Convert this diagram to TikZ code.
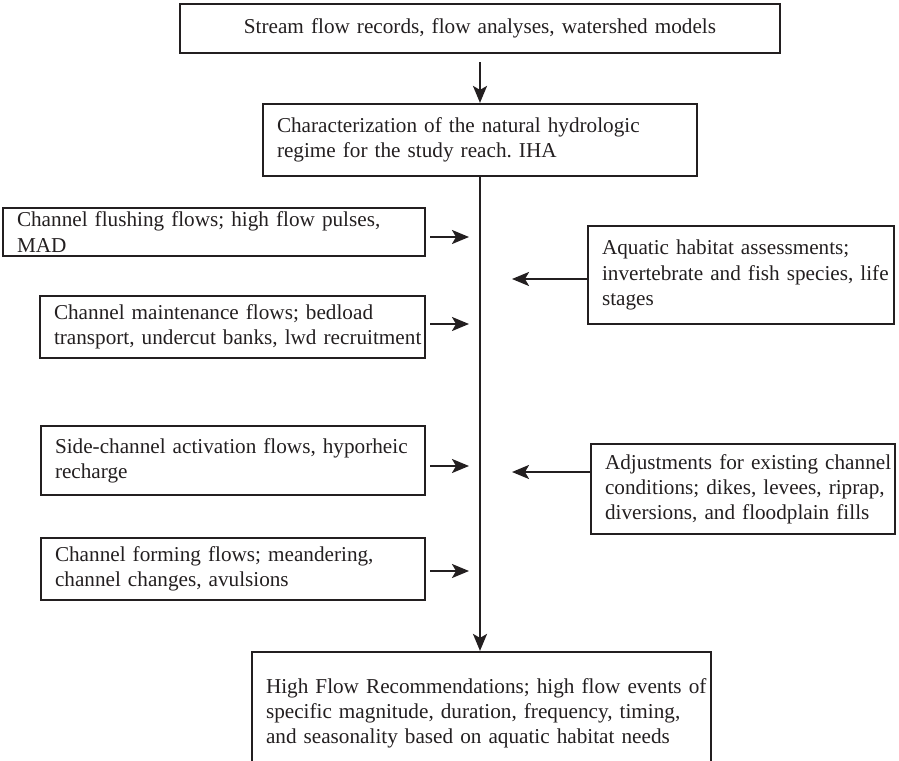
\documentclass[tikz,border=0pt]{standalone}
\usepackage{fontspec}
\setmainfont{Liberation Serif}
\usetikzlibrary{arrows.meta,calc}
\definecolor{ink}{RGB}{35,31,32}
\frenchspacing
\begin{document}
\begin{tikzpicture}[x=1pt,y=-1pt,
  box/.style={draw=ink, line width=2.2pt, inner xsep=0pt, inner ysep=0pt,
    align=left, text=ink, font=\fontsize{21.2}{25.2}\selectfont},
  conn/.style={draw=ink, line width=2.2pt,
    -{Stealth[length=17pt,width=14pt,inset=4pt]}}]
\useasboundingbox (0,0) rectangle (899,760);

\node[box, minimum width=600pt, minimum height=49pt, text width=572pt, align=center] (src) at (480,28.5)
  {Stream flow records, flow analyses, watershed models};
\node[box, minimum width=434pt, minimum height=72pt, text width=406pt] (char) at (480,140)
  {\mbox{Characterization of the natural hydrologic}\\\mbox{regime for the study reach. IHA}};
\node[box, minimum width=422pt, minimum height=48pt, text width=394pt] (flush) at (214,232)
  {\mbox{Channel flushing flows; high flow pulses,}\\\mbox{MAD}};
\node[box, minimum width=306pt, minimum height=98pt, text width=278pt] (aqua) at (741,275)
  {\mbox{Aquatic habitat assessments;}\\\mbox{invertebrate and fish species, life}\\\mbox{stages}};
\node[box, minimum width=385pt, minimum height=62pt, text width=357pt] (maint) at (232.5,327)
  {\mbox{Channel maintenance flows; bedload}\\\mbox{transport, undercut banks, lwd recruitment}};
\node[box, minimum width=384pt, minimum height=69pt, text width=356pt] (side) at (233,460.5)
  {\mbox{Side-channel activation flows, hyporheic}\\\mbox{recharge}};
\node[box, minimum width=304pt, minimum height=90pt, text width=276pt] (adj) at (743,489)
  {\mbox{Adjustments for existing channel}\\\mbox{conditions; dikes, levees, riprap,}\\\mbox{diversions, and floodplain fills}};
\node[box, minimum width=384pt, minimum height=62pt, text width=356pt] (form) at (233,569)
  {\mbox{Channel forming flows; meandering,}\\\mbox{channel changes, avulsions}};
\node[box, minimum width=459pt, minimum height=122.5pt, text width=431pt] (rec) at (481.5,713.25)
  {\mbox{High Flow Recommendations; high flow events of}\\\mbox{specific magnitude, duration, frequency, timing,}\\\mbox{and seasonality based on aquatic habitat needs}};

\draw[conn, shorten <=8pt] (src.south) -- (char.north);
\draw[conn] (char.south) -- (char.south |- rec.north);

\coordinate (f1) at (469,237);
\coordinate (f2) at (469,324);
\coordinate (f3) at (469,466);
\coordinate (f4) at (469,571);
\draw[conn, shorten <=4pt] (flush.east |- f1) -- (f1);
\draw[conn, shorten <=4pt] (maint.east |- f2) -- (f2);
\draw[conn, shorten <=4pt] (side.east |- f3) -- (f3);
\draw[conn, shorten <=4pt] (form.east |- f4) -- (f4);

\coordinate (g1) at (512,279);
\coordinate (g2) at (512,472);
\draw[conn] (aqua.west |- g1) -- (g1);
\draw[conn] (adj.west |- g2) -- (g2);
\end{tikzpicture}
\end{document}
